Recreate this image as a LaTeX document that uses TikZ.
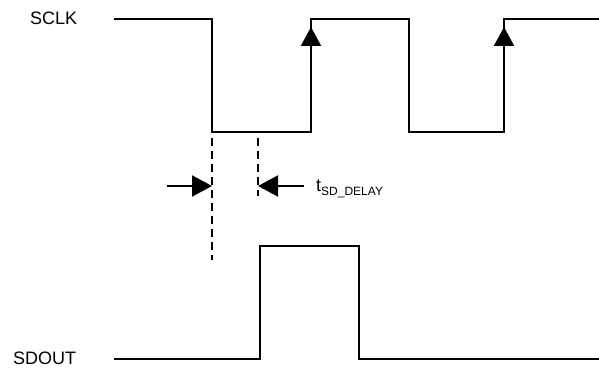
\documentclass[tikz,border=0pt]{standalone}
\usepackage{fontspec}
\setmainfont{Liberation Sans}
\usepackage{tikz}
\usetikzlibrary{arrows.meta,positioning,calc}
\tikzset{
  wave/.style={line width=2pt, line join=miter},
  guide/.style={line width=1.3pt, dash pattern=on 8pt off 5pt},
  edgemark/.style={-{Triangle[length=19pt,width=20pt]}, line width=2pt},
  dimarrow/.style={-{Triangle[length=20pt,width=21pt]}, line width=2pt},
  lbl/.style={inner sep=0pt, anchor=base west, font=\fontsize{18}{20}\selectfont}
}

\begin{document}
\begin{tikzpicture}[x=1pt,y=-1pt]
  \useasboundingbox (0,0) rectangle (599,371);
  % Labels
  \node[lbl] (sclk) at (30,25) {SCLK};
  \node[lbl] (sdout) at (13,364) {SDOUT};

  % SCLK waveform
  \coordinate (fall1) at (212,132);
  \coordinate (rise1) at (311,132);
  \draw[wave] (114,19) -- (212,19) -- (fall1) -- (rise1) -- (311,19) -- (409,19)
              -- (409,132) -- (504,132) -- (504,19) -- (599,19);
  \foreach \x in {311,504} {
    \draw[edgemark] (\x,132) -- (\x,27);
  }

  % SDOUT waveform
  \coordinate (drise) at (260,359);
  \draw[wave] (114,359) -- (drise) -- (260,246) -- (359,246) -- (359,359) -- (599,359);

  % Guides
  \coordinate (g1) at (212,260);
  \coordinate (g2) at (258,196);
  \draw[guide] ($(fall1)+(0,6)$) -- (g1);
  \draw[guide] (258,138) -- (g2);

  % Delay arrows
  \coordinate (a1) at (167,186);
  \coordinate (a1tip) at (212,186);
  \coordinate (a2) at (304,186);
  \coordinate (a2tip) at (258,186);
  \draw[dimarrow] (a1) -- (a1tip);
  \draw[dimarrow] (a2) -- (a2tip);
  \node[lbl] (tdelay) at (316,192) {t\raisebox{-3.5pt}{\fontsize{12}{12}\selectfont SD\_DELAY}};
\end{tikzpicture}
\end{document}
